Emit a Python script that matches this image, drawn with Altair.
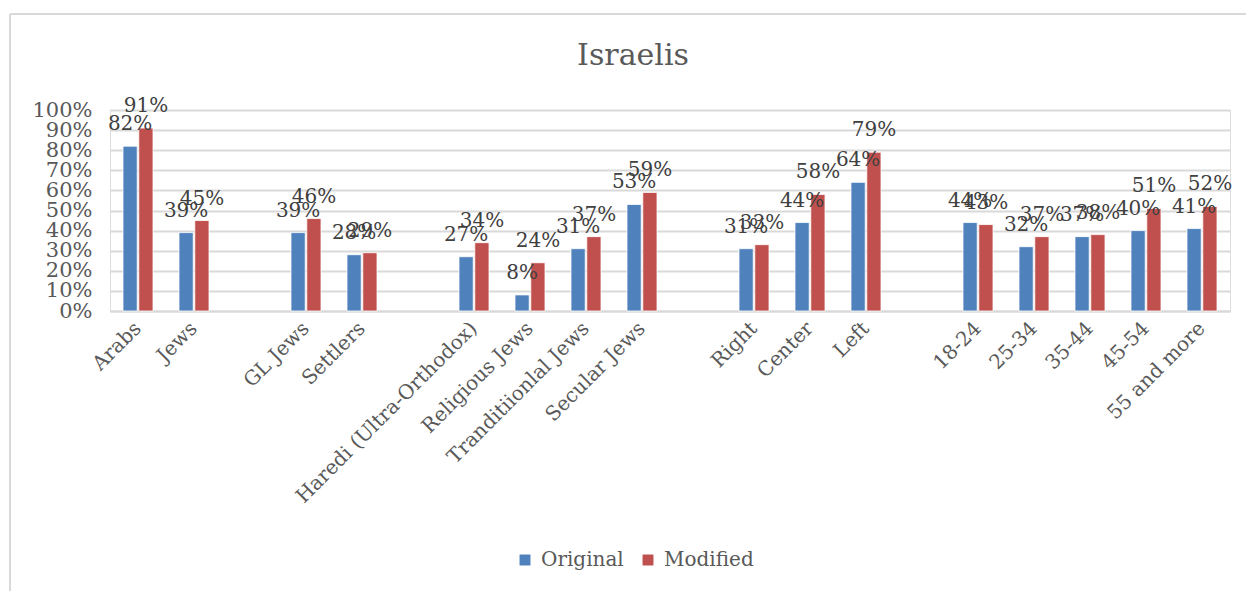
import altair as alt
import pandas as pd

# Category slots (blank names are spacer slots between groups)
categories = ["Arabs", "Jews", " ", "GL Jews", "Settlers", "  ",
              "Haredi (Ultra-Orthodox)", "Religious Jews", "Tranditiionlal Jews", "Secular Jews", "   ",
              "Right", "Center", "Left", "    ",
              "18-24", "25-34", "35-44", "45-54", "55 and more"]
groups = ["Arabs", "Jews", "GL Jews", "Settlers",
          "Haredi (Ultra-Orthodox)", "Religious Jews", "Tranditiionlal Jews", "Secular Jews",
          "Right", "Center", "Left",
          "18-24", "25-34", "35-44", "45-54", "55 and more"]
original = [82, 39, 39, 28, 27, 8, 31, 53, 31, 44, 64, 44, 32, 37, 40, 41]
modified = [91, 45, 46, 29, 34, 24, 37, 59, 33, 58, 79, 43, 37, 38, 51, 52]
series = ["Original", "Modified"]
colors = ["#4F81BD", "#C0504D"]
y_ticks = [0, 0.1, 0.2, 0.3, 0.4, 0.5, 0.6, 0.7, 0.8, 0.9, 1.0]

rows = []
for g, o, m in zip(groups, original, modified):
    rows.append({"group": g, "series": series[0], "value": o / 100})
    rows.append({"group": g, "series": series[1], "value": m / 100})
df = pd.DataFrame(rows)

FONT = "DejaVu Serif"

x_axis = alt.Axis(title=None, labelAngle=-45, labelAlign="right", labelBaseline="middle",
                  labelFont=FONT, labelFontSize=20, labelColor="#595959",
                  labelPadding=14, ticks=False, domainColor="#d9d9d9", domainWidth=2,
                  labelOverlap=False, labelLimit=400)
x_scale = alt.Scale(domain=categories, paddingInner=0.464, paddingOuter=0.232)
y_axis = alt.Axis(title=None, format=".0%", values=y_ticks, labelFont=FONT,
                  labelFontSize=21, labelColor="#595959", ticks=False, domain=False,
                  gridColor="#d9d9d9", gridWidth=2, labelPadding=18,
                  labelOverlap=False)
y_scale = alt.Scale(domain=[0, 1], nice=False)

x_enc = alt.X("group:N", sort=categories, scale=x_scale, axis=x_axis)
xo_enc = alt.XOffset("series:N", sort=series, scale=alt.Scale(domain=series, paddingInner=0.1))
y_enc = alt.Y("value:Q", scale=y_scale, axis=y_axis)
color_enc = alt.Color("series:N", sort=series,
                      scale=alt.Scale(domain=series, range=colors),
                      legend=alt.Legend(title=None, orient="none", direction="horizontal",
                                        legendX=405, legendY=440, symbolType="square",
                                        symbolSize=120, symbolStrokeWidth=0,
                                        labelFont=FONT, labelFontSize=20, labelColor="#595959",
                                        labelOffset=6, columnPadding=14))

bars = alt.Chart(df).mark_bar(stroke="white", strokeWidth=0.8).encode(
    x=x_enc, xOffset=xo_enc, y=y_enc, color=color_enc
)
labels = alt.Chart(df).mark_text(font=FONT, fontSize=20, color="#404040",
                                 baseline="alphabetic", dy=-16).encode(
    x=x_enc, xOffset=xo_enc, y=y_enc,
    text=alt.Text("value:Q", format=".0%")
)
frame_top = alt.Chart(df).mark_rule(color="#d9d9d9", strokeWidth=1.5).encode(
    x=alt.value(-100), x2=alt.value(1140), y=alt.value(-96)
)
frame_left = alt.Chart(df).mark_rule(color="#d9d9d9", strokeWidth=1.5).encode(
    x=alt.value(-100), y=alt.value(-96), y2=alt.value(490)
)

chart = alt.layer(frame_top, frame_left, bars, labels).properties(
    width=1120, height=201,
    autosize=alt.AutoSizeParams(type="none"),
    padding={"left": 110, "top": 110, "right": 16, "bottom": 280},
    title=alt.TitleParams("Israelis", font=FONT, fontSize=30, fontWeight="normal",
                          color="#595959", anchor="middle", frame="group", offset=-58, dx=-37),
).configure_view(stroke=None).configure(background="white")

chart.save("out.html", embed_options={"renderer": "svg", "actions": False})
